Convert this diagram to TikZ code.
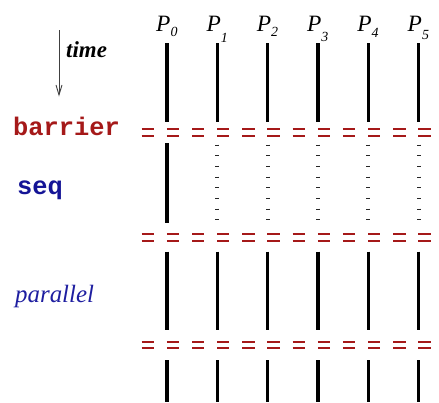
\documentclass[tikz,border=0pt]{standalone}
\usepackage{fontspec}
\setmainfont{Liberation Serif}
\setmonofont{Liberation Mono}
\usetikzlibrary{arrows.meta}
\definecolor{barred}{RGB}{165,25,25}
\definecolor{seqblue}{RGB}{20,20,150}
\definecolor{parblue}{RGB}{30,30,160}
\tikzset{
  proc/.style={line width=3.4bp, black},
  dotproc/.style={line width=4bp, black!85, dash pattern=on 1.2bp off 9.47bp},
  bar/.style={line width=1.9bp, barred},
  plabel/.style={anchor=base west, inner sep=0pt, font=\fontsize{23.5}{23.5}\selectfont\itshape},
  lbl/.style={anchor=base west, inner sep=0pt}
}
\newcommand{\psub}[2]{P\raisebox{-#2bp}{\fontsize{14}{14}\selectfont #1}}
\begin{document}
\begin{tikzpicture}[x=1bp,y=-1bp]
\useasboundingbox (0,0) rectangle (439,402);
% labels
\node[lbl, font=\fontsize{23}{23}\selectfont\bfseries\itshape] (time) at (66,57) {time};
\coordinate (ta) at (59,30);
\coordinate (tb) at (59,96.5);
\draw[line width=1bp, black!75, -{Straight Barb[length=10bp,width=6bp,line width=0.9bp]}] (ta) -- (tb);
\node[lbl, font=\fontsize{25.5}{25.5}\selectfont\ttfamily\bfseries, text=barred] (barrier) at (13,135) {barrier};
\node[lbl, font=\fontsize{25.5}{25.5}\selectfont\ttfamily\bfseries, text=seqblue] (seq) at (17,194) {seq};
\node[lbl, font=\fontsize{25}{25}\selectfont\itshape, text=parblue] (parallel) at (15,302) {parallel};
% process labels
\foreach \i/\d in {0/5,1/11,2/5,3/10,4/6,5/8} {
  \pgfmathsetmacro{\cx}{167+50.3*\i}
  \node[plabel] (P\i) at (\cx-11,31) {\psub{\i}{\d}};
}
% barriers
\foreach \yy in {129,136,234,241,342,348} {
  \foreach \k in {0,...,11} {
    \pgfmathsetmacro{\bx}{141.7+25.15*\k}
    \draw[bar] (\bx,\yy) -- ++(12.3,0);
  }
}
% process lines
\foreach \i in {0,...,5} {
  \pgfmathsetmacro{\cx}{167+50.3*\i}
  \draw[proc] (\cx,43) -- (\cx,122);
  \draw[proc] (\cx,251.7) -- (\cx,330);
  \draw[proc] (\cx,360) -- (\cx,402);
}
\draw[proc] (167,143) -- (167,223);
\foreach \i in {1,...,5} {
  \pgfmathsetmacro{\cx}{167+50.3*\i}
  \draw[dotproc] (\cx,144.5) -- (\cx,221);
}
\end{tikzpicture}
\end{document}
